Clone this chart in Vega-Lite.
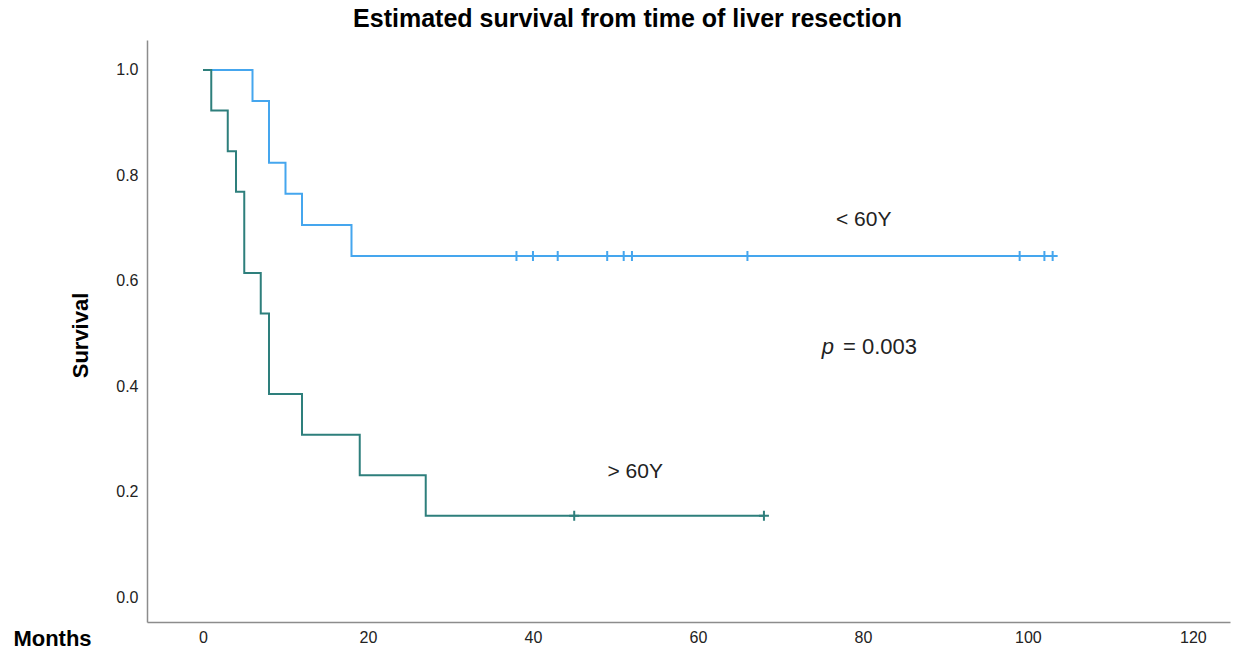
{
  "$schema": "https://vega.github.io/schema/vega-lite/v6.json",
  "width": 1083,
  "height": 582,
  "autosize": "none",
  "padding": {"left": 147, "top": 40, "right": 12, "bottom": 29},
  "background": "white",
  "title": {
    "text": "Estimated survival from time of liver resection",
    "font": "Liberation Sans",
    "fontSize": 25,
    "fontWeight": "bold",
    "color": "#000000",
    "anchor": "middle",
    "frame": "group",
    "dx": -61,
    "offset": -12,
    "baseline": "alphabetic"
  },
  "config": {
    "view": {"stroke": null},
    "axis": {
      "grid": false,
      "ticks": false,
      "domainColor": "#8c8c8c",
      "domainWidth": 1.5,
      "labelFont": "Liberation Sans",
      "labelFontSize": 16,
      "labelColor": "#222222",
      "titleFont": "Liberation Sans",
      "titleFontSize": 22,
      "titleFontWeight": "bold",
      "titleColor": "#000000"
    }
  },
  "datasets": {
    "curves": [
      {"group": "< 60Y", "time": 0, "surv": 1.0},
      {"group": "< 60Y", "time": 6, "surv": 0.941},
      {"group": "< 60Y", "time": 8, "surv": 0.824},
      {"group": "< 60Y", "time": 10, "surv": 0.765},
      {"group": "< 60Y", "time": 12, "surv": 0.706},
      {"group": "< 60Y", "time": 18, "surv": 0.647},
      {"group": "< 60Y", "time": 103.3, "surv": 0.647},
      {"group": "> 60Y", "time": 0, "surv": 1.0},
      {"group": "> 60Y", "time": 1, "surv": 0.923},
      {"group": "> 60Y", "time": 3, "surv": 0.846},
      {"group": "> 60Y", "time": 4, "surv": 0.769},
      {"group": "> 60Y", "time": 5, "surv": 0.615},
      {"group": "> 60Y", "time": 7, "surv": 0.538},
      {"group": "> 60Y", "time": 8, "surv": 0.385},
      {"group": "> 60Y", "time": 12, "surv": 0.308},
      {"group": "> 60Y", "time": 19, "surv": 0.231},
      {"group": "> 60Y", "time": 27, "surv": 0.154},
      {"group": "> 60Y", "time": 68, "surv": 0.154}
    ],
    "censors": [
      {"group": "< 60Y", "time": 38, "surv": 0.647},
      {"group": "< 60Y", "time": 40, "surv": 0.647},
      {"group": "< 60Y", "time": 43, "surv": 0.647},
      {"group": "< 60Y", "time": 49, "surv": 0.647},
      {"group": "< 60Y", "time": 51, "surv": 0.647},
      {"group": "< 60Y", "time": 52, "surv": 0.647},
      {"group": "< 60Y", "time": 66, "surv": 0.647},
      {"group": "< 60Y", "time": 99, "surv": 0.647},
      {"group": "< 60Y", "time": 102, "surv": 0.647},
      {"group": "< 60Y", "time": 103, "surv": 0.647},
      {"group": "> 60Y", "time": 45, "surv": 0.154},
      {"group": "> 60Y", "time": 68, "surv": 0.154}
    ],
    "labels": [
      {"time": 80.1, "surv": 0.715, "text": "< 60Y"},
      {"time": 52.4, "surv": 0.237, "text": "> 60Y"}
    ],
    "pval": [
      {"time": 76.5, "surv": 0.474, "p": "p", "rest": "= 0.003"}
    ]
  },
  "encoding": {
    "x": {
      "field": "time",
      "type": "quantitative",
      "scale": {"domain": [-6.79, 124.5], "nice": false, "zero": false},
      "axis": {
        "values": [0, 20, 40, 60, 80, 100, 120],
        "title": "Months",
        "labelPadding": 7,
        "titleX": -95,
        "titleY": 16,
        "titleAlign": "center",
        "titleBaseline": "middle"
      }
    },
    "y": {
      "field": "surv",
      "type": "quantitative",
      "scale": {"domain": [-0.0474, 1.0569], "nice": false, "zero": false},
      "axis": {
        "values": [0, 0.2, 0.4, 0.6, 0.8, 1.0],
        "format": ".1f",
        "title": "Survival",
        "labelPadding": 9,
        "titleX": -67,
        "titleY": 295,
        "titleAngle": -90,
        "titleAlign": "center",
        "titleBaseline": "middle"
      }
    }
  },
  "layer": [
    {
      "data": {"name": "curves"},
      "mark": {"type": "line", "interpolate": "step-after", "strokeWidth": 2},
      "encoding": {
        "color": {
          "field": "group",
          "type": "nominal",
          "scale": {"domain": ["< 60Y", "> 60Y"], "range": ["#45a6ee", "#2e7f7c"]},
          "legend": null
        }
      }
    },
    {
      "data": {"name": "censors"},
      "mark": {"type": "point", "shape": "M-1,0L1,0M0,-1L0,1", "size": 100, "strokeWidth": 2, "filled": false, "opacity": 1},
      "encoding": {
        "color": {
          "field": "group",
          "type": "nominal",
          "scale": {"domain": ["< 60Y", "> 60Y"], "range": ["#45a6ee", "#2e7f7c"]},
          "legend": null
        }
      }
    },
    {
      "data": {"name": "labels"},
      "mark": {"type": "text", "font": "Liberation Sans", "fontSize": 21, "color": "#222222", "align": "center", "baseline": "middle"},
      "encoding": {"text": {"field": "text"}}
    },
    {
      "data": {"name": "pval"},
      "mark": {"type": "text", "font": "Liberation Sans", "fontSize": 22, "fontStyle": "italic", "color": "#222222", "align": "right", "baseline": "middle"},
      "encoding": {"text": {"field": "p"}}
    },
    {
      "data": {"name": "pval"},
      "mark": {"type": "text", "font": "Liberation Sans", "fontSize": 22, "color": "#222222", "align": "left", "baseline": "middle", "dx": 9},
      "encoding": {"text": {"field": "rest"}}
    }
  ]
}
